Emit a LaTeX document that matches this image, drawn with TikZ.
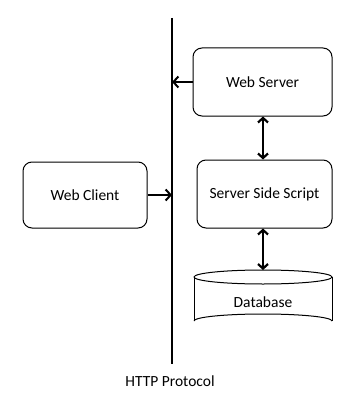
\documentclass[tikz,border=0pt]{standalone}
\usepackage{fontspec}
\setmainfont{Carlito}
\usetikzlibrary{arrows.meta}
\begin{document}
\begin{tikzpicture}[x=1pt,y=-1pt,
  lbl/.style={font=\fontsize{15.5}{18}\selectfont},
  box/.style={draw, line width=1pt, rounded corners=9pt, lbl, fill=white},
  thin arrow/.style={line width=1.1pt, -{Straight Barb[length=5pt,width=11pt,line width=2pt]}},
  dbl arrow/.style={line width=2.2pt, {Straight Barb[length=4.5pt,width=10pt]}-{Straight Barb[length=4.5pt,width=10pt]}}]
\useasboundingbox (0,0) rectangle (358,409);
% vertical protocol line
\coordinate (ltop) at (172,18);
\coordinate (lbot) at (172,364);
\draw[line width=1.4pt] (ltop) -- (lbot);
\node[lbl] (http) at (170,381) {HTTP Protocol};
% boxes
\node[box, minimum width=139pt, minimum height=68pt] (ws) at (262.5,82) {Web Server};
\node[box, minimum width=124pt, minimum height=66pt] (wc) at (85,195) {Web Client};
\node[box, minimum width=135pt, minimum height=68pt] (sss) at (264.5,194) {Server Side Script};
% database cylinder
\coordinate (dbc) at (263,277);
\fill[white] (194,277) -- (194,322) arc[start angle=180,end angle=360,x radius=69,y radius=7] -- (332,277) -- cycle;
\draw[line width=1pt] (194,277) -- (194,321);
\draw[line width=1pt] (332,277) -- (332,321);
\draw[line width=1pt] (194,321) arc[start angle=180,end angle=360,x radius=69,y radius=7];
\draw[line width=1pt, fill=white] (dbc) ellipse[x radius=69, y radius=7];
\node[lbl] (db) at (263,302) {Database};
\coordinate (dbtop) at (263,270);
% connectors
\draw[thin arrow] (ws.west) -- (ws.west -| ltop);
\draw[thin arrow] (wc.east) -- (wc.east -| ltop);
\draw[dbl arrow] ([xshift=0.5pt]ws.south) -- ([xshift=-1.5pt]sss.north);
\draw[dbl arrow] ([xshift=-1.5pt]sss.south) -- (dbtop);
\end{tikzpicture}
\end{document}
